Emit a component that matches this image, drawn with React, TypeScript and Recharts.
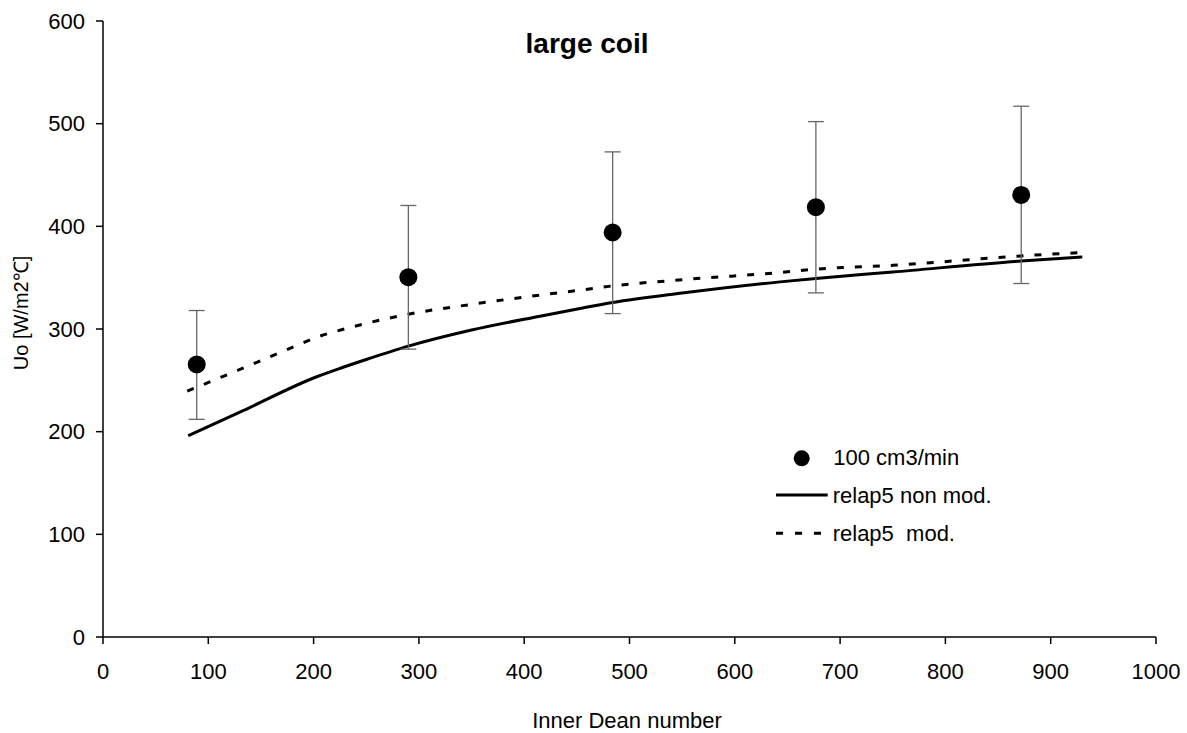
import React from "react";
import {
  ComposedChart,
  Line,
  Scatter,
  ErrorBar,
  XAxis,
  YAxis,
  Label,
  Customized,
} from "recharts";

// measured points (100 cm3/min) with error range
const deanMeasured = [89, 290, 484, 677, 872];
const uoMeasured = [265.5, 350.5, 394, 418.7, 430.6];
const uoLow = [212, 280.4, 315, 335.2, 344.3];
const uoHigh = [318, 420.3, 472.5, 502, 517];

// relap5 non mod.
const deanNonMod = [81, 130, 203, 226, 250, 290, 350, 415, 453, 484, 550, 643, 677, 750, 872, 930];
const uoNonMod = [196, 219, 253.5, 262, 270.3, 283.3, 299, 312.5, 320, 325.8, 335, 345.9, 349.2, 355.5, 366.3, 370.2];

// relap5 mod.
const deanMod = [80, 130, 181, 203, 233, 290, 350, 415, 453, 484, 550, 643, 677, 750, 872, 930];
const uoMod = [239.5, 260.6, 282.6, 292, 301, 314.4, 324, 333, 337.8, 342, 348, 355, 358.3, 362, 371.2, 374.5];

const xTicks = [0, 100, 200, 300, 400, 500, 600, 700, 800, 900, 1000];
const yTicks = [0, 100, 200, 300, 400, 500, 600];

const measured = deanMeasured.map((x, i) => ({
  x,
  y: uoMeasured[i],
  err: [uoMeasured[i] - uoLow[i], uoHigh[i] - uoMeasured[i]],
}));
const nonMod = deanNonMod.map((x, i) => ({ x, y: uoNonMod[i] }));
const mod = deanMod.map((x, i) => ({ x, y: uoMod[i] }));

const FONT = "'Liberation Sans', Arial, sans-serif";
const tickStyle = { fontSize: 22, fill: "#000", fontFamily: FONT };

const Dot = (props: any) => <circle cx={props.cx} cy={props.cy} r={9} fill="#000" />;

// legend drawn inside the chart svg so it does not shrink the plot area
const LegendBox = () => (
  <g transform="translate(770 440)" fontFamily={FONT}>
    <circle cx={31.7} cy={18.3} r={8} fill="#000" />
    <text x={63.3} y={25} fontSize={22} fill="#000">100 cm3/min</text>
    <line x1={6} y1={55} x2={57.7} y2={55} stroke="#000" strokeWidth={3} />
    <text x={62.7} y={62.7} fontSize={22} fill="#000">relap5 non mod.</text>
    <line x1={6} y1={93.3} x2={54} y2={93.3} stroke="#000" strokeWidth={3} strokeDasharray="7 12" />
    <text x={62.7} y={100.5} fontSize={22} fill="#000" style={{ whiteSpace: "pre" }}>
      relap5  mod.
    </text>
  </g>
);

const Title = () => (
  <text x={587} y={53} textAnchor="middle" fontSize={28} fontWeight="bold" fontFamily={FONT} fill="#000">
    large coil
  </text>
);

export default function App() {
  return (
    <div style={{ position: "absolute", left: 0, top: 0, background: "#fff" }}>
      <ComposedChart width={1187} height={733} margin={{ top: 21, right: 31, bottom: 0, left: 0 }}>
        <XAxis
          type="number"
          dataKey="x"
          domain={[0, 1000]}
          ticks={xTicks}
          tickSize={7}
          tickMargin={19}
          height={96}
          stroke="#000"
          strokeWidth={1.5}
          tick={tickStyle}
        >
          <Label
            content={() => (
              <text x={627} y={728} textAnchor="middle" fontSize={22} fontFamily={FONT} fill="#000">
                Inner Dean number
              </text>
            )}
          />
        </XAxis>
        <YAxis
          type="number"
          dataKey="y"
          domain={[0, 600]}
          ticks={yTicks}
          tickSize={7}
          tickMargin={11}
          width={103}
          stroke="#000"
          strokeWidth={1.5}
          tick={tickStyle}
        >
          <Label
            content={() => (
              <text
                x={21}
                y={313}
                textAnchor="middle"
                dominantBaseline="central"
                fontSize={20}
                fontFamily={FONT}
                fill="#000"
                transform="rotate(-90 21 313)"
              >
                Uo [W/m2℃]
              </text>
            )}
          />
        </YAxis>
        <Line
          data={nonMod}
          dataKey="y"
          type="monotone"
          stroke="#000"
          strokeWidth={3}
          dot={false}
          activeDot={false}
          isAnimationActive={false}
        />
        <Line
          data={mod}
          dataKey="y"
          type="monotone"
          stroke="#000"
          strokeWidth={3}
          strokeDasharray="7 11"
          dot={false}
          activeDot={false}
          isAnimationActive={false}
        />
        <Scatter data={measured} dataKey="y" shape={Dot} isAnimationActive={false}>
          <ErrorBar dataKey="err" direction="y" width={8} stroke="#666" strokeWidth={1.3} />
        </Scatter>
        <Customized component={LegendBox} />
        <Customized component={Title} />
      </ComposedChart>
    </div>
  );
}
